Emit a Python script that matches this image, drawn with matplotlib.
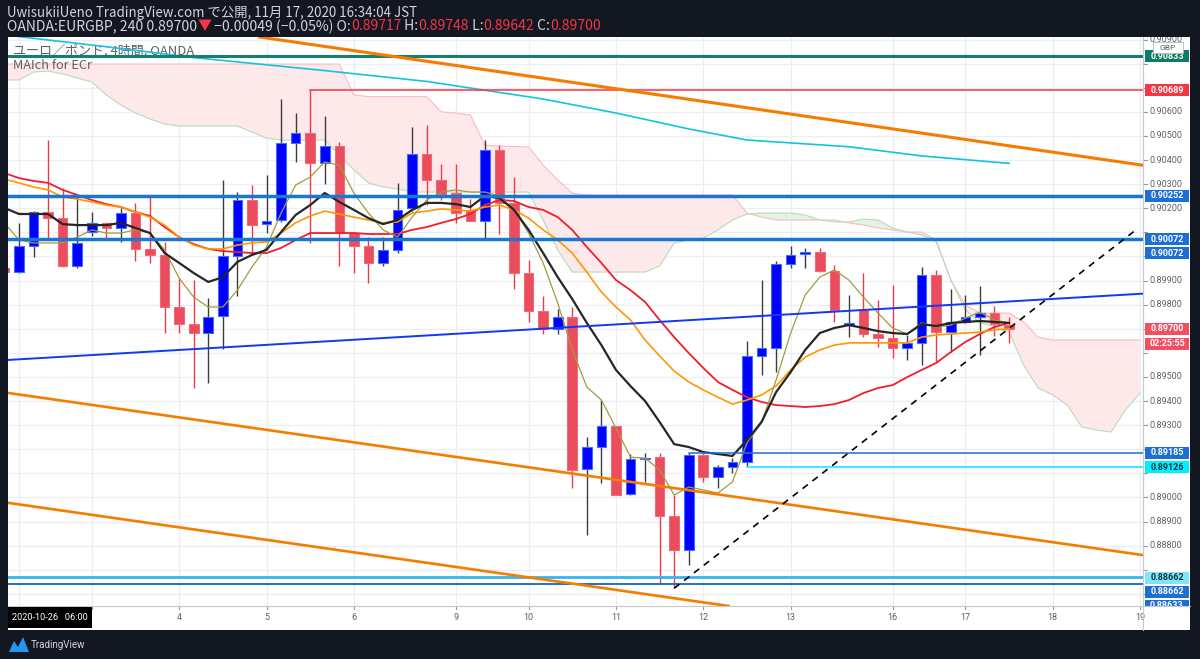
import matplotlib
matplotlib.use("Agg")
import matplotlib.pyplot as plt
import matplotlib.transforms as mtransforms
from matplotlib.patches import Rectangle, Polygon
from matplotlib.lines import Line2D

W, H = 1200, 659
Y0, Y1 = 0.885494, 0.909104          # visible price range
PX = (Y1 - Y0) / 569                 # price per pixel of the chart pane

# ---- EURGBP 4h candles, bar -1 is the cut candle at the left edge ----
bars = list(range(-1, 69))
opens = [0.89952, 0.89935, 0.90043, 0.90186, 0.90158, 0.89960, 0.90103, 0.90137, 0.90117, 0.90181,
         0.90031, 0.90006, 0.89789, 0.89718, 0.89681, 0.89753, 0.90003, 0.90234, 0.90133, 0.90151,
         0.90472, 0.90511, 0.90386, 0.90458, 0.90098, 0.90043, 0.89971, 0.90027, 0.90200, 0.90424,
         0.90317, 0.90262, 0.90193, 0.90148, 0.90442, 0.90220, 0.89932, 0.89775, 0.89698, 0.89750,
         0.89117, 0.89210, 0.89296, 0.89014, 0.89158, 0.89166, 0.88924, 0.88782, 0.89176, 0.89086,
         0.89127, 0.89148, 0.89587, 0.89619, 0.89967, 0.90009, 0.90017, 0.89941, 0.89715, 0.89778,
         0.89678, 0.89660, 0.89621, 0.89639, 0.89923, 0.89688, 0.89729, 0.89747, 0.89766, 0.89717]
highs = [0.89960, 0.90139, 0.90188, 0.90483, 0.90284, 0.90248, 0.90186, 0.90144, 0.90200, 0.90220,
         0.90248, 0.90061, 0.89909, 0.89902, 0.89829, 0.90317, 0.90268, 0.90296, 0.90338, 0.90652,
         0.90594, 0.90689, 0.90583, 0.90476, 0.90101, 0.90082, 0.90082, 0.90303, 0.90538, 0.90545,
         0.90383, 0.90383, 0.90237, 0.90483, 0.90462, 0.90328, 0.89987, 0.89836, 0.89782, 0.89791,
         0.89252, 0.89404, 0.89298, 0.89180, 0.89183, 0.89185, 0.89010, 0.89183, 0.89183, 0.89134,
         0.89162, 0.89650, 0.89902, 0.89982, 0.90043, 0.90034, 0.90034, 0.89964, 0.89840, 0.89930,
         0.89819, 0.89881, 0.89674, 0.89955, 0.89944, 0.89864, 0.89840, 0.89877, 0.89794, 0.89748]
lows = [0.89927, 0.89933, 0.89999, 0.90076, 0.89958, 0.89952, 0.90086, 0.90071, 0.90059, 0.89982,
        0.89971, 0.89683, 0.89683, 0.89455, 0.89476, 0.89615, 0.89836, 0.90013, 0.90096, 0.90143,
        0.90393, 0.90056, 0.90300, 0.89960, 0.89930, 0.89888, 0.89960, 0.90014, 0.90190, 0.90213,
        0.90234, 0.90140, 0.90146, 0.90068, 0.90093, 0.89864, 0.89729, 0.89678, 0.89678, 0.89038,
        0.88844, 0.89059, 0.89008, 0.89012, 0.89065, 0.88641, 0.88625, 0.88720, 0.89065, 0.89038,
        0.89100, 0.89132, 0.89508, 0.89522, 0.89951, 0.89951, 0.89935, 0.89729, 0.89667, 0.89667,
        0.89625, 0.89577, 0.89570, 0.89549, 0.89563, 0.89605, 0.89722, 0.89591, 0.89670, 0.89642]
closes = [0.89935, 0.90043, 0.90186, 0.90158, 0.89960, 0.90057, 0.90137, 0.90117, 0.90179, 0.90029,
          0.90006, 0.89789, 0.89718, 0.89681, 0.89750, 0.90002, 0.90234, 0.90130, 0.90148, 0.90469,
          0.90511, 0.90386, 0.90458, 0.90098, 0.90043, 0.89971, 0.90027, 0.90193, 0.90424, 0.90317,
          0.90259, 0.90181, 0.90148, 0.90442, 0.90220, 0.89932, 0.89775, 0.89698, 0.89747, 0.89114,
          0.89210, 0.89296, 0.89010, 0.89158, 0.89165, 0.88923, 0.88782, 0.89176, 0.89086, 0.89125,
          0.89148, 0.89587, 0.89619, 0.89967, 0.90006, 0.90017, 0.89941, 0.89778, 0.89724, 0.89678,
          0.89660, 0.89621, 0.89639, 0.89923, 0.89688, 0.89729, 0.89747, 0.89766, 0.89718, 0.89700]

# ---- moving averages (read per bar) ----
ma_black = [0.90201, 0.90176, 0.90176, 0.90176, 0.90134, 0.90130, 0.90130, 0.90130, 0.90139, 0.90118,
            0.90097, 0.90014, 0.89973, 0.89931, 0.89894, 0.89914, 0.89977, 0.90006, 0.90027, 0.90101,
            0.90172, 0.90213, 0.90263, 0.90226, 0.90193, 0.90159, 0.90134, 0.90151, 0.90193, 0.90222,
            0.90222, 0.90217, 0.90205, 0.90251, 0.90242, 0.90193, 0.90110, 0.90014, 0.89914, 0.89823,
            0.89724, 0.89632, 0.89529, 0.89462, 0.89400, 0.89313, 0.89221, 0.89209, 0.89188, 0.89180,
            0.89172, 0.89238, 0.89313, 0.89437, 0.89520, 0.89612, 0.89682, 0.89703, 0.89715, 0.89703,
            0.89690, 0.89682, 0.89678, 0.89719, 0.89711, 0.89724, 0.89728, 0.89732, 0.89728, 0.89724]
ma_olive = [0.90139, 0.90068, 0.90056, 0.90056, 0.90056, 0.90080, 0.90110, 0.90097, 0.90097, 0.90110,
            0.90097, 0.90027, 0.89910, 0.89831, 0.89790, 0.89790, 0.89860, 0.89956, 0.90039, 0.90180,
            0.90296, 0.90329, 0.90392, 0.90379, 0.90263, 0.90180, 0.90110, 0.90080, 0.90163, 0.90234,
            0.90267, 0.90276, 0.90267, 0.90267, 0.90251, 0.90193, 0.90097, 0.89973, 0.89807, 0.89612,
            0.89458, 0.89404, 0.89288, 0.89167, 0.89163, 0.89114, 0.89010, 0.89043, 0.89031, 0.89018,
            0.89064, 0.89226, 0.89309, 0.89487, 0.89682, 0.89840, 0.89914, 0.89944, 0.89902, 0.89831,
            0.89765, 0.89703, 0.89678, 0.89724, 0.89707, 0.89715, 0.89744, 0.89769, 0.89736, 0.89724]
ma_orange = [0.90321, 0.90305, 0.90288, 0.90276, 0.90246, 0.90238, 0.90226, 0.90213, 0.90205, 0.90184,
             0.90163, 0.90130, 0.90080, 0.90047, 0.90031, 0.90031, 0.90047, 0.90056, 0.90060, 0.90097,
             0.90139, 0.90168, 0.90188, 0.90176, 0.90163, 0.90151, 0.90139, 0.90143, 0.90180, 0.90188,
             0.90197, 0.90193, 0.90188, 0.90205, 0.90213, 0.90193, 0.90159, 0.90110, 0.90068, 0.90014,
             0.89935, 0.89852, 0.89790, 0.89736, 0.89653, 0.89587, 0.89524, 0.89479, 0.89446, 0.89416,
             0.89387, 0.89404, 0.89425, 0.89462, 0.89529, 0.89582, 0.89612, 0.89632, 0.89641, 0.89641,
             0.89641, 0.89641, 0.89641, 0.89665, 0.89674, 0.89678, 0.89682, 0.89686, 0.89695, 0.89699]
ma_red = [0.90346, 0.90325, 0.90313, 0.90305, 0.90276, 0.90255, 0.90234, 0.90217, 0.90205, 0.90184,
          0.90168, 0.90122, 0.90080, 0.90051, 0.90031, 0.90022, 0.90018, 0.90014, 0.90014, 0.90035,
          0.90068, 0.90097, 0.90097, 0.90097, 0.90097, 0.90093, 0.90093, 0.90093, 0.90110, 0.90122,
          0.90139, 0.90155, 0.90176, 0.90213, 0.90234, 0.90230, 0.90205, 0.90193, 0.90163, 0.90110,
          0.90039, 0.89973, 0.89902, 0.89860, 0.89811, 0.89736, 0.89665, 0.89599, 0.89537, 0.89479,
          0.89446, 0.89416, 0.89396, 0.89383, 0.89379, 0.89375, 0.89379, 0.89387, 0.89404, 0.89433,
          0.89454, 0.89466, 0.89499, 0.89529, 0.89558, 0.89603, 0.89645, 0.89678, 0.89707, 0.89724]
cyan_bars = [-1, 0, 6, 12, 21, 28, 36, 41, 46, 50, 57, 62, 68]
ma_cyan = [0.90923, 0.90912, 0.90870, 0.90825, 0.90771, 0.90726, 0.90653, 0.90595, 0.90529, 0.90483,
           0.90455, 0.90417, 0.90386]

# ---- ichimoku cloud, bars -1 .. 77 (runs into the future) ----
cloud_bars = list(range(-1, 78))
cloud_a = [0.90798, 0.90798, 0.90798, 0.90798, 0.90798, 0.90798, 0.90798, 0.90798, 0.90798, 0.90798,
           0.90798, 0.90798, 0.90798, 0.90798, 0.90798, 0.90798, 0.90798, 0.90798, 0.90798, 0.90798,
           0.90798, 0.90798, 0.90798, 0.90798, 0.90670, 0.90663, 0.90663, 0.90663, 0.90663, 0.90663,
           0.90600, 0.90595, 0.90587, 0.90462, 0.90458, 0.90456, 0.90454, 0.90379, 0.90317, 0.90263,
           0.90255, 0.90255, 0.90255, 0.90255, 0.90255, 0.90255, 0.90255, 0.90255, 0.90255, 0.90255,
           0.90255, 0.90180, 0.90163, 0.90151, 0.90151, 0.90151, 0.90151, 0.90151, 0.90139, 0.90130,
           0.90118, 0.90110, 0.90101, 0.90101, 0.90068, 0.89902, 0.89798, 0.89765, 0.89765, 0.89765,
           0.89728, 0.89665, 0.89653, 0.89653, 0.89653, 0.89653, 0.89653, 0.89653, 0.89653]
cloud_b = [0.90732, 0.90732, 0.90765, 0.90769, 0.90757, 0.90740, 0.90724, 0.90670, 0.90628, 0.90595,
           0.90570, 0.90549, 0.90541, 0.90541, 0.90541, 0.90541, 0.90541, 0.90516, 0.90491, 0.90483,
           0.90483, 0.90483, 0.90483, 0.90421, 0.90359, 0.90305, 0.90288, 0.90280, 0.90267, 0.90267,
           0.90267, 0.90267, 0.90267, 0.90267, 0.90267, 0.90267, 0.90267, 0.90151, 0.90027, 0.89935,
           0.89935, 0.89935, 0.89935, 0.89935, 0.89935, 0.89960, 0.90056, 0.90068, 0.90076, 0.90110,
           0.90151, 0.90176, 0.90180, 0.90180, 0.90180, 0.90172, 0.90151, 0.90143, 0.90143, 0.90155,
           0.90151, 0.90118, 0.90101, 0.90089, 0.90060, 0.89902, 0.89778, 0.89724, 0.89707, 0.89686,
           0.89549, 0.89454, 0.89425, 0.89383, 0.89292, 0.89280, 0.89271, 0.89363, 0.89433]

# ---- drawings ----
blue_trend = [(0, 0.89573), (68, 0.89813)]
orange_top = [(20, 0.90880), (68, 0.90459)]
orange_mid = [(0, 0.89427), (68, 0.88840)]
orange_low = [(0, 0.88971), (40, 0.88625)]
dash_trend = [(45, 0.88623), (76.76, 0.90112)]
teal_level = 0.90830
red_level, red_from = 0.90689, 20
thick_levels = [0.90252, 0.90072]
blue_level, blue_from = 0.89185, 46
cyan_level, cyan_from = 0.89126, 50
low_levels = [0.88668, 0.88641]

price_ticks = [0.886, 0.887, 0.888, 0.889, 0.890, 0.891, 0.892, 0.893, 0.894, 0.895, 0.896, 0.897,
               0.898, 0.899, 0.900, 0.901, 0.902, 0.903, 0.904, 0.905, 0.906, 0.907, 0.908, 0.909]
day_bars = [0, 5, 11, 17, 23, 30, 35, 41, 47, 53, 60, 65, 71, 77]
day_labels = ['2', '3', '4', '5', '6', '9', '10', '11', '12', '13', '16', '17', '18', '19']

# right-scale tags: (price position, text, box colour, text colour)
tags = [(0.90830, '0.90833', '#0c7c64', 'white'),
        (0.90689, '0.90689', '#f23645', 'white'),
        (0.90252, '0.90252', '#1e6fd4', 'white'),
        (0.90072, '0.90072', '#1e6fd4', 'white'),
        (0.90014, '0.90072', '#1e6fd4', 'white'),
        (0.89700, '0.89700', '#f0505f', 'white'),
        (0.89638, '02:25:55', '#f0505f', 'white'),
        (0.89185, '0.89185', '#1e6fd4', 'white'),
        (0.89126, '0.89126', '#00f0ff', '#10303a'),
        (0.88666, '0.88662', '#7fe6f8', '#10303a'),
        (0.88608, '0.88662', '#1e6fd4', 'white'),
        (0.88550, '0.88633', '#1e6fd4', 'white')]

HFONT = ['Noto Sans CJK JP', 'DejaVu Sans']
TXT = '#d1d4dc'
RED = '#f23645'
GREY = '#5d606b'


def fx(x):
    return x / W


def fy(y):
    return 1 - y / H


fig = plt.figure(figsize=(W / 100, H / 100), dpi=100, facecolor='#131722')
fig.add_artist(Rectangle((fx(8), fy(630)), fx(1190) - fx(8), (630 - 37) / H,
                         transform=fig.transFigure, fc='white', ec='none', zorder=-5))

ax = fig.add_axes([fx(8), fy(606), (1143 - 8) / W, (606 - 37) / H])
ax.set_xlim(-0.755, 77.2)
ax.set_ylim(Y0, Y1)
for s in ax.spines.values():
    s.set_visible(False)
ax.set_xticks(day_bars)
ax.set_yticks(price_ticks)
ax.tick_params(length=0, labelbottom=False, labelleft=False)
ax.grid(True, color='#ebeff5', lw=0.9)
ax.set_axisbelow(True)

# cloud
up_cloud = [a >= b for a, b in zip(cloud_a, cloud_b)]
ax.fill_between(cloud_bars, cloud_a, cloud_b, where=up_cloud, interpolate=True,
                color='#fde8ea', lw=0, zorder=1)
ax.fill_between(cloud_bars, cloud_a, cloud_b, where=[not u for u in up_cloud], interpolate=True,
                color='#e4f2e4', lw=0, zorder=1)
ax.plot(cloud_bars, cloud_a, color='#f8bcc1', lw=0.8, zorder=1.5)
ax.plot(cloud_bars, cloud_b, color='#b8dcb9', lw=0.8, zorder=1.5)

# candles
for i, o, h, l, c in zip(bars, opens, highs, lows, closes):
    ax.plot([i, i], [l, h], color='#3c3c3c' if c >= o else '#f03a4a', lw=1.0,
            solid_capstyle='butt', zorder=3)
ax.bar(bars, [abs(c - o) for o, c in zip(opens, closes)],
       bottom=[min(o, c) for o, c in zip(opens, closes)], width=0.66,
       color=['#0000ff' if c >= o else '#ea4d5c' for o, c in zip(opens, closes)],
       edgecolor=['#3f6ff2' if c >= o else '#f06a77' for o, c in zip(opens, closes)],
       linewidth=0.8, zorder=3.5)

# moving averages
ax.plot(cyan_bars, ma_cyan, color='#17c2dc', lw=1.2, zorder=4)
ax.plot(bars, ma_red, color='#f01e2c', lw=1.3, zorder=4)
ax.plot(bars, ma_orange, color='#ff9800', lw=1.2, zorder=4)
ax.plot(bars, ma_olive, color='#a39b3e', lw=0.9, zorder=4)
ax.plot(bars, ma_black, color='#262626', lw=1.6, zorder=4.2)

# horizontal levels and trend lines
ax.axhline(teal_level, color='#12806a', lw=2.2, zorder=5)
ax.plot([red_from, 90], [red_level, red_level], color='#f23645', lw=1.1, zorder=5)
for lv in thick_levels:
    ax.axhline(lv, color='#1976d2', lw=2.5, zorder=5)
ax.plot([blue_from, 90], [blue_level, blue_level], color='#1e6fd4', lw=1.1, zorder=5)
ax.plot([cyan_from, 90], [cyan_level, cyan_level], color='#00e8ff', lw=1.1, zorder=5)
ax.axhline(low_levels[0], color='#35b5f0', lw=2.0, zorder=5)
ax.axhline(low_levels[1], color='#1565c0', lw=1.3, zorder=5)
ax.axline(*blue_trend, color='#1238f5', lw=1.4, zorder=5)
ax.axline(*orange_top, color='#f57c00', lw=2.2, zorder=5)
ax.axline(*orange_mid, color='#f57c00', lw=1.9, zorder=5)
ax.axline(*orange_low, color='#f57c00', lw=1.9, zorder=5)
ax.plot([p[0] for p in dash_trend], [p[1] for p in dash_trend], color='black', lw=1.2,
        ls=(0, (4, 3.5)), zorder=5)

ax.text(0.0046, 1 - (51 - 37) / 569, 'ユーロ／ポンド, 4時間, OANDA',
        transform=ax.transAxes, family=HFONT, fontsize=9.4, color=GREY, va='center', zorder=2)
ax.text(0.0046, 1 - (65.5 - 37) / 569, 'MAIch for ECr', transform=ax.transAxes, family=HFONT,
        fontsize=9.2, color=GREY, va='center', zorder=2)

# price scale
pax = fig.add_axes([fx(1143), fy(606), (1190 - 1143) / W, (606 - 37) / H])
pax.set_xlim(0, 47)
pax.set_ylim(Y0, Y1)
pax.axis('off')
for p in price_ticks:
    pax.plot([0, 4], [p, p], color='#9598a1', lw=0.8, clip_on=True)
    # labels that sit under a coloured tag are hidden, as on the scale
    if any(abs(p - tp) < 10 * PX for tp, *_ in tags):
        continue
    pax.text(7, p, f'{p:.5f}', va='center', ha='left', fontsize=6.5, color=GREY,
             family='Roboto', clip_on=True)
for p, t, fc, tc in tags:
    pax.add_patch(Rectangle((2, p - 6 * PX), 44, 12 * PX, fc=fc, ec='none', zorder=5, clip_on=True))
    pax.text(24, p, t, ha='center', va='center', fontsize=6.5, color=tc, family='Roboto',
             weight='bold', zorder=6, clip_on=True)
pax.add_patch(Rectangle((10, Y1 - 16 * PX), 30, 11 * PX, fc='white', ec='#b2b5be', lw=0.6, zorder=7))
pax.text(25, Y1 - 10.5 * PX, 'GBP', ha='center', va='center', fontsize=6, color=GREY,
         family='Roboto', zorder=8)

# pane borders
fig.add_artist(Line2D([fx(8), fx(1190)], [fy(606), fy(606)], transform=fig.transFigure,
                      color='#c5c8ce', lw=0.8))
fig.add_artist(Line2D([fx(1143), fx(1143)], [fy(37), fy(630)], transform=fig.transFigure,
                      color='#c5c8ce', lw=0.8))

# time scale (labels for the 2nd and 3rd sit under the date box)
tb = mtransforms.blended_transform_factory(ax.transData, fig.transFigure)
for b, lab in zip(day_bars, day_labels):
    ax.plot([b, b], [fy(606), fy(609)], transform=tb, color='#9598a1', lw=0.8, clip_on=False)
    if b < 6:
        continue
    ax.text(b, fy(618), lab, transform=tb, ha='center', va='center', fontsize=6.5,
            color=GREY, family='Roboto', clip_on=False)
fig.add_artist(Rectangle((fx(8), fy(628)), fx(92) - fx(8), 21 / H, transform=fig.transFigure,
                         fc='black', ec='none', zorder=10))
fig.text(fx(50), fy(617.5), '2020-10-26   06:00', ha='center', va='center', fontsize=6.6,
         color='white', family='Roboto', zorder=11)

# header
renderer = fig.canvas.get_renderer()


def runs(x, y, parts, size):
    for s, col in parts:
        t = fig.text(fx(x), fy(y), s, color=col, fontsize=size, family=HFONT, va='center', ha='left')
        x = t.get_window_extent(renderer).x1


runs(7, 12.5, [('UwisukiiUeno TradingView.com で公開, 11月 17, 2020 16:34:04 JST', TXT)], 9.6)
runs(7, 26.5, [('OANDA:EURGBP, 240 0.89700', TXT), ('▼', RED), (' −0.00049 (−0.05%) O:', TXT),
               ('0.89717', RED), (' H:', TXT), ('0.89748', RED), (' L:', TXT), ('0.89642', RED),
               (' C:', TXT), ('0.89700', RED)], 10.1)

# TradingView logo
fig.add_artist(Polygon([(fx(9), fy(652)), (fx(14), fy(641)), (fx(18), fy(647)), (fx(23), fy(637)),
                        (fx(29), fy(652))], closed=True, transform=fig.transFigure,
                       fc='#2196f3', ec='none'))
fig.text(fx(31), fy(644.5), 'TradingView', fontsize=7, color=TXT, family='Roboto', va='center')

fig.savefig('out.png', dpi=100, facecolor=fig.get_facecolor())
